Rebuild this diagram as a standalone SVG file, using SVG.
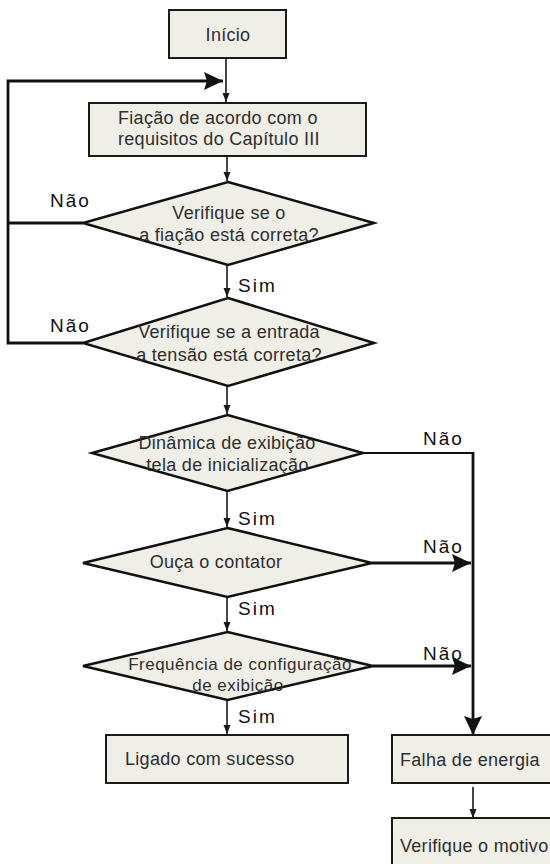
<svg xmlns="http://www.w3.org/2000/svg" width="550" height="864" viewBox="0 0 550 864">
<style>
.box{fill:#efefe7;stroke:#1a1a1a;stroke-width:2}
.dia{fill:#efefe7;stroke:#111;stroke-width:2.5}
.t{font-family:"Liberation Sans",Arial,sans-serif;font-size:18px;fill:#2e2e2e;letter-spacing:0.3px}
.s{font-size:17px;letter-spacing:0.5px}
.c{text-anchor:middle}
.lbl{font-family:"Liberation Sans",Arial,sans-serif;font-size:19px;fill:#111;letter-spacing:2px}
.thin{fill:none;stroke:#1a1a1a;stroke-width:1.6}
.thick{fill:none;stroke:#111;stroke-width:2.8}
</style>
<defs>
<marker id="sa" markerUnits="userSpaceOnUse" markerWidth="10" markerHeight="8" refX="9" refY="3.5" orient="auto"><path d="M0,0 L9,3.5 L0,7 z" fill="#1a1a1a"/></marker>
<marker id="ba" markerUnits="userSpaceOnUse" markerWidth="20" markerHeight="19" refX="19" refY="9" orient="auto"><path d="M0,0 L19,9 L0,18 L3,9 z" fill="#111"/></marker>
</defs>
<g id="connectors">
<line class="thin" x1="226" y1="58" x2="226" y2="102" marker-end="url(#sa)"/>
<path class="thick" d="M83,343 H8 V81 H223" marker-end="url(#ba)"/>
<path class="thick" d="M83,223 H8"/>
<line class="thin" x1="227" y1="156" x2="227" y2="181" marker-end="url(#sa)"/>
<line class="thin" x1="227" y1="265" x2="227" y2="297" marker-end="url(#sa)"/>
<line class="thin" x1="227" y1="386" x2="227" y2="414" marker-end="url(#sa)"/>
<line class="thin" x1="227" y1="491" x2="227" y2="527" marker-end="url(#sa)"/>
<line class="thin" x1="227" y1="597" x2="227" y2="631" marker-end="url(#sa)"/>
<line class="thin" x1="227" y1="700" x2="227" y2="734" marker-end="url(#sa)"/>
<path fill="none" stroke="#111" stroke-width="2" d="M363,453 H473"/>
<path class="thick" d="M473,452 V735" marker-end="url(#ba)"/>
<path class="thick" d="M372,563 H471" marker-end="url(#ba)"/>
<path class="thick" d="M373,666 H471" marker-end="url(#ba)"/>
<line class="thin" x1="473" y1="787" x2="473" y2="818" marker-end="url(#sa)"/>
</g>
<g id="inicio"><rect class="box" x="169" y="10" width="117" height="48"/><text class="t c" x="228" y="41">Início</text></g>
<g id="fiacao"><rect class="box" x="89" y="103" width="277" height="53"/><text class="t" x="118" y="124">Fiação de acordo com o</text><text class="t" x="118" y="145">requisitos do Capítulo III</text></g>
<g id="d1"><polygon class="dia" points="228,182 374,223 228,265 83,223"/><text class="t c" x="229" y="219">Verifique se o</text><text class="t c" x="229" y="241">a fiação está correta?</text></g>
<g id="d2"><polygon class="dia" points="228,298 374,343 228,386 83,343"/><text class="t c" x="229" y="338">Verifique se a entrada</text><text class="t c" x="229" y="361">a tensão está correta?</text></g>
<g id="d3"><polygon class="dia" points="227.5,415 363,453 227.5,491 92,453"/><text class="t c" x="227" y="449">Dinâmica de exibição</text><text class="t c" x="227.5" y="471">tela de inicialização</text></g>
<g id="d4"><polygon class="dia" points="227.5,528 372,563 227.5,597 83,563"/><text class="t c" x="216" y="568">Ouça o contator</text></g>
<g id="d5"><polygon class="dia" points="227.5,632 373,666 227.5,700 83,666"/><text class="t s c" x="240" y="670">Frequência de configuração</text><text class="t s c" x="238" y="691">de exibição</text></g>
<g id="ligado"><rect class="box" x="106" y="735" width="242" height="48"/><text class="t" x="125" y="765">Ligado com sucesso</text></g>
<g id="falha"><rect class="box" x="392" y="735" width="170" height="48"/><text class="t" x="400" y="766">Falha de energia</text></g>
<g id="verifique"><rect class="box" x="392" y="818" width="170" height="60"/><text class="t" x="400" y="852">Verifique o motivo</text></g>
<g id="labels">
<text class="lbl" x="50" y="207">Não</text>
<text class="lbl" x="50" y="332">Não</text>
<text class="lbl" x="238" y="292">Sim</text>
<text class="lbl" x="423" y="445">Não</text>
<text class="lbl" x="238" y="525">Sim</text>
<text class="lbl" x="423" y="553">Não</text>
<text class="lbl" x="238" y="615">Sim</text>
<text class="lbl" x="423" y="660">Não</text>
<text class="lbl" x="238" y="723">Sim</text>
</g>
</svg>
